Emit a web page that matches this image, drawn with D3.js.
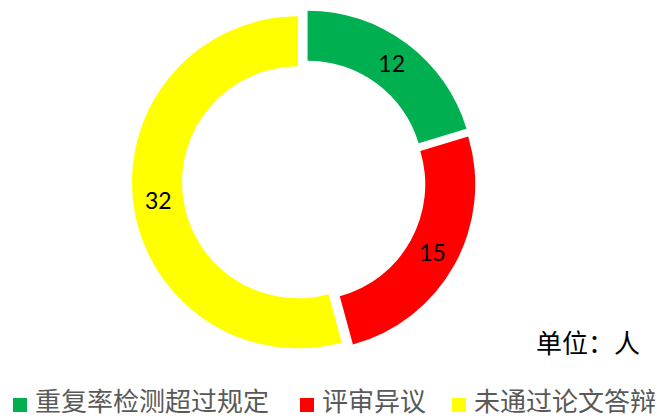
<!DOCTYPE html>
<html>
<head>
<meta charset="utf-8">
<script src="https://cdn.jsdelivr.net/npm/d3@7"></script>
<style>
  body { margin: 0; background: #fff; }
  svg { display: block; }
</style>
</head>
<body>
<svg id="chart" width="657" height="419"></svg>
<script>
// data
const categories = ["重复率检测超过规定", "评审异议", "未通过论文答辩"];
const values = [12, 15, 32];
const colors = ["#00B050", "#FF0000", "#FFFF00"];
const unitLabel = "单位：人";

const width = 657, height = 419;
const cx = 304, cy = 181.5;
const outerR = 166, innerR = 116;
const explode = 6;

const svg = d3.select("#chart");

const pie = d3.pie().sort(null).value(d => d.value);
const arc = d3.arc().innerRadius(innerR).outerRadius(outerR);
const labelArc = d3.arc().innerRadius((innerR + outerR) / 2).outerRadius((innerR + outerR) / 2);

const data = categories.map((c, i) => ({ name: c, value: values[i], color: colors[i] }));

const g = svg.append("g").attr("transform", "translate(" + cx + "," + cy + ")");

const slices = g.selectAll("g.slice")
    .data(pie(data))
    .enter().append("g")
    .attr("class", "slice")
    .attr("transform", (d) => {
        const a = (d.startAngle + d.endAngle) / 2;
        return "translate(" + (explode * Math.sin(a)) + "," + (-explode * Math.cos(a)) + ")";
    });

slices.append("path")
    .attr("d", arc)
    .attr("fill", d => d.data.color);

slices.append("text")
    .attr("transform", d => "translate(" + labelArc.centroid(d) + ")")
    .attr("text-anchor", "middle")
    .attr("dy", "0.35em")
    .style("font-family", "Lato, 'Open Sans', sans-serif")
    .style("font-size", "23px")
    .attr("fill", "#000")
    .text(d => d.data.value);

// unit label
svg.append("text")
    .attr("x", 536)
    .attr("y", 353)
    .style("font-family", "'Noto Sans CJK SC', sans-serif")
    .style("font-size", "26px")
    .attr("fill", "#000")
    .text(unitLabel);

// legend
const legendX = [13, 300, 452];
const legend = svg.selectAll("g.legend")
    .data(data)
    .enter().append("g")
    .attr("class", "legend")
    .attr("transform", (d, i) => "translate(" + legendX[i] + ",398)");

legend.append("rect")
    .attr("width", 14)
    .attr("height", 14)
    .attr("fill", d => d.color);

legend.append("text")
    .attr("x", 22)
    .attr("y", 13)
    .style("font-family", "'Noto Sans CJK SC', sans-serif")
    .style("font-size", "26px")
    .attr("fill", "#595959")
    .text(d => d.name);
</script>
</body>
</html>
